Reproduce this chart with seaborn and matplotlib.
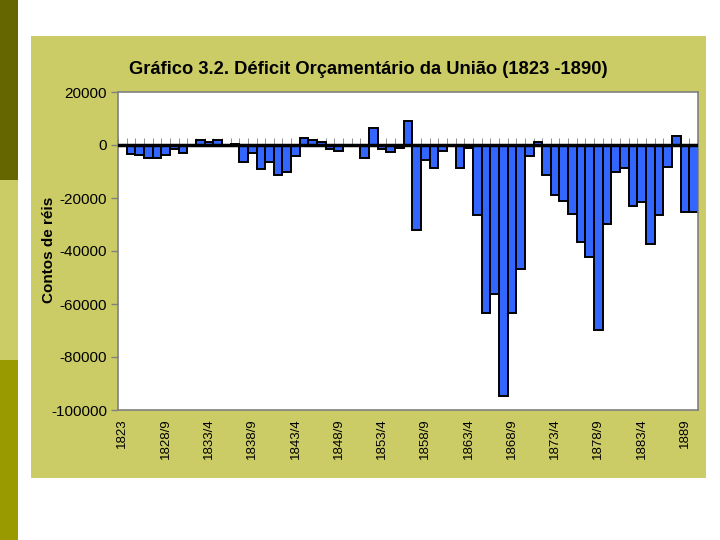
"""
Gráfico 3.2 - Déficit orçamentário da União, 1823-1890 (bar chart on a slide panel).
"""

import matplotlib
matplotlib.use("Agg")
import matplotlib.pyplot as plt
from matplotlib.patches import Rectangle
import numpy as np
import pandas as pd
import seaborn as sns

# periods: calendar years 1823-1827, then fiscal years, then 1889 and 1890
years_single = ["1823", "1824", "1825", "1826", "1827"]
fiscal_start = list(range(1828, 1888))
periods = years_single + [f"{y}/{str(y + 1)[-1] if (y + 1) % 10 else str(y + 1)[-2:]}"
                          for y in fiscal_start] + ["1889", "1890"]
periods = periods[:65] + ["1889", "1890"]

# saldo orçamentário, contos de réis
saldo = [
    -300, -3400, -3800, -4900, -4900, -3600, -1600, -3000, -200, 2000,
    1000, 2000, -200, 500, -6500, -3000, -9000, -6300, -11300, -10300,
    -4300, 2500, 1900, 1300, -1500, -2100, -300, -300, -5000, 6600,
    -1500, -2500, -1300, 9200, -32000, -5500, -8800, -2100, -300, -8700,
    -1300, -26600, -63300, -56200, -94900, -63300, -46700, -4000, 1000, -11300,
    -18700, -21000, -26000, -36700, -42100, -69700, -29800, -10000, -8800, -22900,
    -21600, -37200, -26600, -8200, 3500, -25400, -25400,
]

tick_every = 5
ytick_values = [20000, 0, -20000, -40000, -60000, -80000, -100000]
y_min, y_max = -100000, 20000

df = pd.DataFrame({"periodo": periods, "saldo": saldo})

sns.set_theme(style="white")
plt.rcParams["font.family"] = ["Liberation Sans", "DejaVu Sans"]
plt.rcParams["text.color"] = "black"

fig = plt.figure(figsize=(7.2, 5.4), dpi=100)
W, H = 720, 540


def fig_rect(x, y, w, h, color):
    # rectangle given in pixel coords (top-left origin)
    fig.patches.append(Rectangle((x / W, 1 - (y + h) / H), w / W, h / H,
                                 transform=fig.transFigure, facecolor=color,
                                 edgecolor="none", zorder=-5))


# slide decoration
fig_rect(0, 0, 18, 180, "#666600")
fig_rect(0, 180, 18, 180, "#CCCC66")
fig_rect(0, 360, 18, 180, "#999900")
fig_rect(31, 36, 675, 442, "#CCCC66")

ax = fig.add_axes([118 / W, 1 - 410 / H, 580 / W, 318 / H])
ax.set_zorder(5)
ax.set_facecolor("white")

sns.barplot(data=df, x="periodo", y="saldo", color="#3366FF", saturation=1,
            edgecolor="black", linewidth=1.4, width=1.0, ax=ax, zorder=2)
ax.axhline(0, color="black", lw=2.5, zorder=3)

ax.set_xlim(-0.5, len(periods) - 0.5)
ax.set_ylim(y_min, y_max)
ax.set_yticks(ytick_values)
ax.set_yticklabels([str(v) for v in ytick_values], fontsize=11)

xt = list(range(0, len(periods), tick_every))
ax.set_xticks(xt)
ax.set_xticklabels([periods[i] for i in xt], rotation=90, fontsize=9.5)

ax.tick_params(axis="x", length=0, pad=6, labelcolor="black")
ax.tick_params(axis="y", length=5, width=1, color="#808080", pad=3,
               left=True, labelcolor="black")
ax.set_xlabel("")
ax.set_ylabel("")
for s in ax.spines.values():
    s.set_visible(True)
    s.set_color("#808080")
    s.set_linewidth(1.2)

# category-axis tick marks sitting on the zero line, behind the bars
zero_frac = (0 - y_min) / (y_max - y_min)
cat_axis = ax.secondary_xaxis(zero_frac)
cat_axis.set_zorder(1)
cat_axis.set_xticks(np.arange(len(periods) + 1) - 0.5)
cat_axis.tick_params(axis="x", direction="out", length=5, width=0.7,
                     color="#909090", labelbottom=False, labeltop=False)
cat_axis.spines["bottom"].set_visible(False)
cat_axis.spines["top"].set_visible(False)

fig.text(368 / W, 1 - 69 / H,
         "Gráfico 3.2. Déficit Orçamentário da União (1823 -1890)",
         ha="center", va="center", fontsize=13.2, fontweight="bold",
         color="black")
fig.text(49 / W, 1 - 250 / H, "Contos de réis", rotation=90,
         ha="center", va="center", fontsize=11, fontweight="bold",
         color="black")

fig.savefig("out.png", dpi=100, facecolor="white")
